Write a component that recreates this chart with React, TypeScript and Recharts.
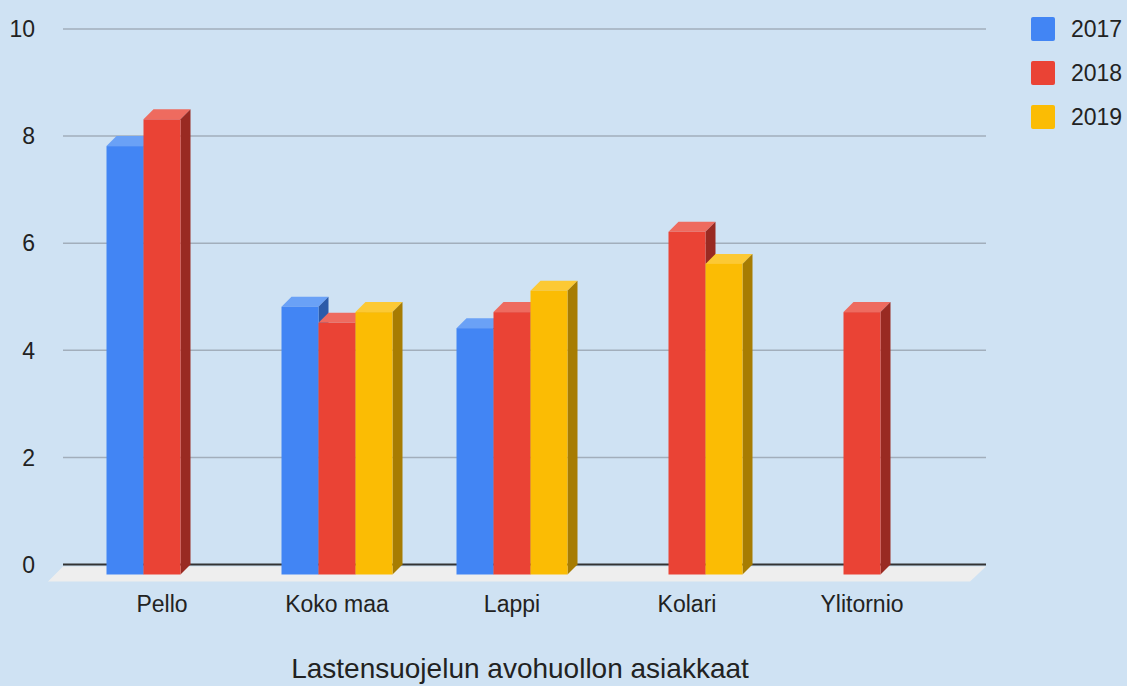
import { Bar, BarChart, CartesianGrid, XAxis, YAxis } from "recharts";

const categories = ["Pello", "Koko maa", "Lappi", "Kolari", "Ylitornio"];
const values2017 = [8.0, 5.0, 4.6, null, null];
const values2018 = [8.5, 4.7, 4.9, 6.4, 4.9];
const values2019 = [null, 4.9, 5.3, 5.8, null];
const years = ["2017", "2018", "2019"];
const yTicks = [0, 2, 4, 6, 8, 10];
const title = "Lastensuojelun avohuollon asiakkaat";

const data = categories.map((name, i) => ({
  name,
  y2017: values2017[i],
  y2018: values2018[i],
  y2019: values2019[i],
}));

// front / top / side colours per series
const palette = [
  { front: "#4285f4", top: "#6aa1f6", side: "#2c5ba9" },
  { front: "#ea4335", top: "#ee6b5f", side: "#992a22" },
  { front: "#fbbc04", top: "#fcc934", side: "#a77c02" },
];

const DEPTH = 10;
const FONT = "Arial, 'Liberation Sans', sans-serif";

const bar3d = (c: { front: string; top: string; side: string }) => (props: any) => {
  const { x, y, width, height, value } = props;
  const v = Array.isArray(value) ? value[1] : value;
  if (v == null || !(height > 0)) return <g />;
  const d = DEPTH;
  return (
    <g>
      <polygon
        points={`${x},${y + d} ${x + d},${y} ${x + width + d},${y} ${x + width},${y + d}`}
        fill={c.top}
      />
      <polygon
        points={`${x + width},${y + d} ${x + width + d},${y} ${x + width + d},${y + height} ${x + width},${y + height + d}`}
        fill={c.side}
      />
      <rect x={x} y={y + d} width={width} height={height} fill={c.front} />
    </g>
  );
};

// grid line renderer; the baseline gets the floor and the dark axis line
const GridLine = (props: any) => {
  const { x1, y1, x2, y, height } = props;
  const isBase = height != null ? Math.abs(y1 - (y + height)) < 1 : y1 > 500;
  if (!isBase) {
    return <line x1={x1} y1={y1} x2={x2} y2={y1} stroke="#a2aebb" strokeWidth={1.5} />;
  }
  return (
    <g>
      <polygon
        points={`${x1},${y1 + 2} ${x2},${y1 + 2} ${x2 - 16},${y1 + 17} ${x1 - 15},${y1 + 17}`}
        fill="#eeeeee"
      />
      <line x1={x1} y1={y1} x2={x2} y2={y1} stroke="#333333" strokeWidth={2} />
    </g>
  );
};

const YTick = ({ y, payload }: any) => (
  <text x={35} y={y} dy="0.36em" textAnchor="end" fontSize={23} fill="#222" fontFamily={FONT}>
    {payload.value}
  </text>
);

const XTick = ({ x, payload }: any) => (
  <text x={x} y={612} textAnchor="middle" fontSize={23} fill="#222" fontFamily={FONT}>
    {payload.value}
  </text>
);

export default function App() {
  return (
    <div style={{ position: "absolute", left: 0, top: 0, width: 1127, height: 686, background: "#cfe2f3", overflow: "hidden", fontFamily: FONT }}>
      <BarChart
        width={1127}
        height={686}
        data={data}
        margin={{ top: 29, right: 141, bottom: 61.5, left: 0 }}
        barSize={37}
        barGap={0}
      >
        <CartesianGrid vertical={false} horizontal={(p: any) => <GridLine {...p} />} />
        <XAxis
          dataKey="name"
          height={60}
          axisLine={false}
          tickLine={false}
          padding={{ left: 11.5, right: 36.5 }}
          tick={<XTick />}
          interval={0}
        />
        <YAxis width={63} domain={[0, 10]} ticks={yTicks} axisLine={false} tickLine={false} tick={<YTick />} />
        {years.map((yr, i) => (
          <Bar key={yr} dataKey={`y${yr}`} isAnimationActive={false} shape={bar3d(palette[i])} />
        ))}
      </BarChart>
      {years.map((yr, i) => (
        <div key={yr} style={{ position: "absolute", left: 1031, top: 17 + i * 44, height: 24, display: "flex", alignItems: "center" }}>
          <div style={{ width: 24, height: 24, borderRadius: 2, background: palette[i].front }} />
          <span style={{ marginLeft: 16, fontSize: 23, color: "#222" }}>{yr}</span>
        </div>
      ))}
      <div style={{ position: "absolute", left: 0, width: 1040, top: 655, textAlign: "center", fontSize: 28, lineHeight: "28px", color: "#222" }}>
        {title}
      </div>
    </div>
  );
}
